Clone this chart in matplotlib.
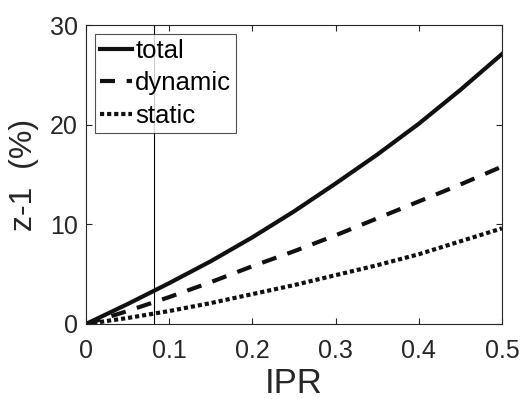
import matplotlib.pyplot as plt

plt.rcParams['font.family'] = ['Liberation Sans', 'DejaVu Sans']

ipr = [0.0, 0.05, 0.1, 0.15, 0.2, 0.25, 0.3, 0.35, 0.4, 0.45, 0.5]
total = [0.0, 2.0, 4.1, 6.3, 8.7, 11.3, 14.1, 17.0, 20.1, 23.5, 27.1]
dynamic = [0.0, 1.3, 2.7, 4.2, 5.8, 7.3, 8.9, 10.6, 12.3, 14.0, 15.8]
static = [0.0, 0.6, 1.3, 2.1, 3.0, 3.9, 4.9, 5.9, 7.0, 8.3, 9.6]
marker_x = 0.0813

grey = '#262626'

fig = plt.figure(figsize=(5.23, 3.99), dpi=100)
ax = fig.add_axes([0.1644, 0.188, 0.7954, 0.749])

ax.axvline(marker_x, color='black', lw=0.8)
ax.plot(ipr, total, color='#111111', lw=3, ls='-', label='total')
ax.plot(ipr, dynamic, color='#111111', lw=3, ls=(0, (3.6, 2.8)), label='dynamic')
ax.plot(ipr, static, color='#111111', lw=3, ls=(0, (1, 0.7)), label='static')

ax.set_xlim(0, 0.5)
ax.set_ylim(0, 30)
ax.set_xticks([0, 0.1, 0.2, 0.3, 0.4, 0.5])
ax.set_xticklabels(['0', '0.1', '0.2', '0.3', '0.4', '0.5'])
ax.set_yticks([0, 10, 20, 30])
ax.tick_params(direction='in', top=True, right=True, length=4, width=0.8,
               labelsize=18, colors=grey, labelcolor=grey, pad=6)
ax.tick_params(axis='x', pad=11)
for s in ax.spines.values():
    s.set_color(grey)
    s.set_linewidth(0.8)

ax.set_xlabel('IPR', fontsize=25, color=grey, labelpad=3)
ax.set_ylabel('z-1  (%)', fontsize=23, color=grey, labelpad=8)

leg = ax.legend(loc='upper left', fontsize=18.5, frameon=True, fancybox=False,
                edgecolor=grey, handlelength=1.25, handletextpad=0.12,
                borderpad=0.2, labelspacing=0.32, borderaxespad=0.35)
leg.get_frame().set_linewidth(0.8)

fig.savefig('out.png', dpi=100)
